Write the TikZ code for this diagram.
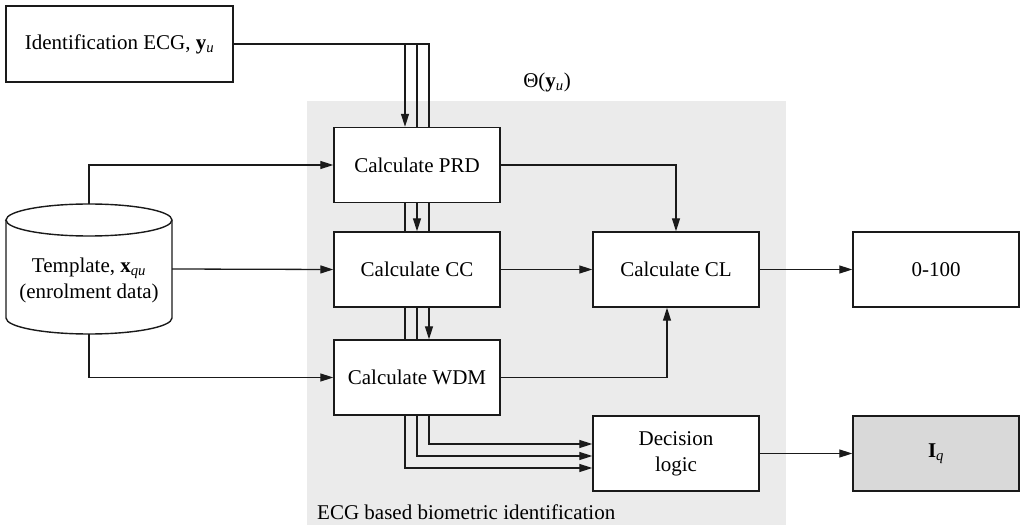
\documentclass[tikz,border=0pt]{standalone}
\usepackage{fontspec}
\setmainfont{Liberation Serif}
\usetikzlibrary{arrows.meta}
\definecolor{panel}{HTML}{EBEBEB}
\definecolor{outfill}{HTML}{D9D9D9}
\definecolor{ink}{HTML}{1A1A1A}
% bold vector y with italic subscript u
\newcommand{\vecyu}{{\bfseries y}\textsubscript{\itshape u}}
\begin{document}
\begin{tikzpicture}[
  x=1bp, y=-1bp,
  font=\fontsize{21bp}{26bp}\selectfont,
  box/.style={draw=ink, line width=1.4bp, fill=white, minimum width=166bp,
    minimum height=75bp, inner sep=0pt, align=center},
  link/.style={draw=ink, line width=1.3bp},
  arr/.style={link, -{Triangle[length=13bp,width=8bp]}},
  plain/.style={inner sep=0pt, align=center}
]
\useasboundingbox (0,0) rectangle (1020,525);

% shaded processing block
\fill[panel] (307,101) rectangle (786,525);

% input record
\node[box, minimum width=227bp, minimum height=76bp] (ident) at (119.5,44) {Identification ECG, \vecyu};

% template database (cylinder)
\node[minimum width=166bp, minimum height=130bp, inner sep=0pt] (tmpl) at (89,269) {};
\draw[draw=ink, line width=1.4bp, fill=white]
  (6,220) -- (6,318) arc[start angle=180, end angle=360, x radius=83bp, y radius=16bp]
  -- (172,220) arc[start angle=0, end angle=180, x radius=83bp, y radius=16bp] -- cycle;
\draw[draw=ink, line width=1.4bp]
  (6,220) arc[start angle=180, end angle=360, x radius=83bp, y radius=16bp];
\node[plain] (tmpltext) at (89,280) {Template, {\bfseries x}\textsubscript{\itshape qu}\\(enrolment data)};

% processing boxes
\node[box] (prd) at (417,165) {Calculate PRD};
\node[box] (cc) at (417,269.5) {Calculate CC};
\node[box] (wdm) at (417,377.5) {Calculate WDM};
\node[box] (cl) at (676,269.5) {Calculate CL};
\node[box] (dec) at (676,453.5) {Decision\\logic};

% outputs
\node[box] (score) at (936,269.5) {0-100};
\node[box, fill=outfill] (iq) at (936,453.5) {{\bfseries I}\textsubscript{\itshape q}};

% labels
\node[plain] (theta) at (547,82) {Θ(\vecyu)};
\node[plain, anchor=west] (caption) at (317,512) {ECG based biometric identification};

% identification ECG fed down through the three calculators
\draw[arr] (ident.east) -| ([xshift=-12bp]prd.north);
\draw[link] (ident.east) -| (prd.north);
\draw[link] (ident.east) -| ([xshift=12bp]prd.north);

\draw[link] ([xshift=-12bp]prd.south) -- ([xshift=-12bp]cc.north);
\draw[arr] (prd.south) -- (cc.north);
\draw[link] ([xshift=12bp]prd.south) -- ([xshift=12bp]cc.north);

\draw[link] ([xshift=-12bp]cc.south) -- ([xshift=-12bp]wdm.north);
\draw[link] (cc.south) -- (wdm.north);
\draw[arr] ([xshift=12bp]cc.south) -- ([xshift=12bp]wdm.north);

\draw[arr] ([xshift=12bp]wdm.south) |- ([yshift=9.5bp]dec.west);
\draw[arr] (wdm.south) |- ([yshift=-2.5bp]dec.west);
\draw[arr] ([xshift=-12bp]wdm.south) |- ([yshift=-14.5bp]dec.west);

% template inputs
\draw[arr] (tmpl.north) |- (prd.west);
\draw[arr] (tmpl.east) -- (cc.west);
\draw[arr] (tmpl.south) |- (wdm.west);

% scores into CL
\draw[arr] (prd.east) -| (cl.north);
\draw[arr] (cc.east) -- (cl.west);
\draw[arr] (wdm.east) -| ([xshift=-9bp]cl.south);

% results
\draw[arr] (cl.east) -- (score.west);
\draw[arr] (dec.east) -- (iq.west);
\end{tikzpicture}
\end{document}
